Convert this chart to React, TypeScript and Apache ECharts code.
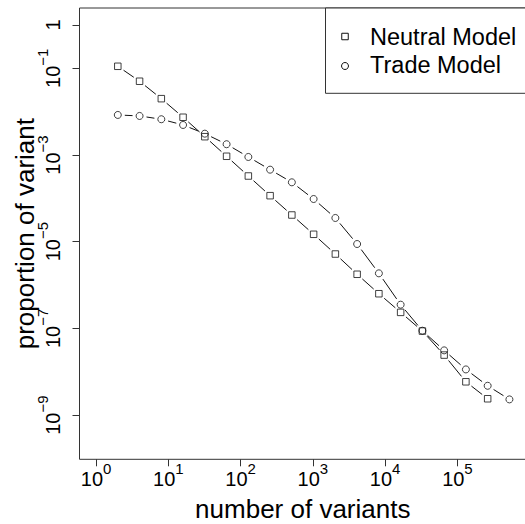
import React, { useEffect, useRef } from "react";
import * as echarts from "echarts";

// number of variants (x) for each point
const neutralCounts = [2, 4, 8, 16, 32, 64, 128, 256, 512, 1024, 2048, 4096, 8192, 16384, 32768, 65536, 131072, 262144];
const tradeCounts = [2, 4, 8, 16, 32, 64, 128, 256, 512, 1024, 2048, 4096, 8192, 16384, 32768, 65536, 131072, 262144, 524288];

// proportion of variant (y)
const neutralProportion = [1.11e-1, 5.02e-2, 1.99e-2, 7.41e-3, 2.64e-3, 9.33e-4, 3.27e-4, 1.15e-4, 4.12e-5, 1.48e-5, 5.19e-6, 1.77e-6, 6.3e-7, 2.34e-7, 8.67e-8, 2.42e-8, 5.86e-9, 2.38e-9];
const tradeProportion = [8.38e-3, 7.94e-3, 6.67e-3, 4.92e-3, 3.1e-3, 1.77e-3, 8.99e-4, 4.58e-4, 2.34e-4, 9.64e-5, 3.52e-5, 8.83e-6, 1.86e-6, 3.52e-7, 8.83e-8, 3.11e-8, 1.13e-8, 4.74e-9, 2.3e-9];

// tick exponents
const xTickExponents = [0, 1, 2, 3, 4, 5];
const yTickExponents = [0, -1, -3, -5, -7, -9];

const seriesNames = ["Neutral Model", "Trade Model"];

const FONT = "Liberation Sans, Arial, Helvetica, sans-serif";
const GAP = 7;

function toPoints(counts: number[], props: number[]) {
  return counts.map((c, i) => [Math.log10(c), Math.log10(props[i])]);
}

function segmentSeries(name: string, pts: number[][]) {
  return {
    type: "custom",
    name,
    silent: true,
    data: pts,
    encode: { x: 0, y: 1 },
    z: 2,
    renderItem: (params: any, api: any) => {
      const i = params.dataIndex;
      if (i === 0) return { type: "group", children: [] };
      const p0 = api.coord(pts[i - 1]);
      const p1 = api.coord(pts[i]);
      const dx = p1[0] - p0[0];
      const dy = p1[1] - p0[1];
      const len = Math.hypot(dx, dy);
      if (len <= 2 * GAP) return { type: "group", children: [] };
      const ux = dx / len;
      const uy = dy / len;
      return {
        type: "line",
        shape: {
          x1: p0[0] + ux * GAP,
          y1: p0[1] + uy * GAP,
          x2: p1[0] - ux * GAP,
          y2: p1[1] - uy * GAP,
        },
        style: { stroke: "#111", lineWidth: 1 },
      };
    },
  };
}

const supRich = {
  a: { fontSize: 20, lineHeight: 28, verticalAlign: "bottom", fontFamily: FONT, color: "#000" },
  b: { fontSize: 15, lineHeight: 15, verticalAlign: "top", fontFamily: FONT, color: "#000" },
};

export default function App() {
  const ref = useRef<HTMLDivElement>(null);
  useEffect(() => {
    if (!ref.current) return;
    const chart = echarts.init(ref.current, undefined, { renderer: "svg" });
    const neutralPts = toPoints(neutralCounts, neutralProportion);
    const tradePts = toPoints(tradeCounts, tradeProportion);
    const option: any = {
      animation: false,
      backgroundColor: "#fff",
      textStyle: { fontFamily: FONT },
      grid: {
        left: 79.5,
        top: 8,
        right: -1,
        bottom: 64.7,
        show: true,
        borderColor: "#333",
        borderWidth: 1,
        backgroundColor: "transparent",
        containLabel: false,
        outerBoundsMode: "none",
      },
      xAxis: {
        type: "value",
        min: -0.229,
        max: 5.949,
        name: "number of variants",
        nameLocation: "middle",
        nameGap: 37,
        nameMoveOverlap: false,
        nameTextStyle: { fontSize: 26, color: "#000", fontFamily: FONT },
        axisLine: { show: false, onZero: false },
        splitLine: { show: false },
        axisTick: { show: true, length: 7, customValues: xTickExponents, lineStyle: { color: "#333" } },
        axisLabel: {
          customValues: xTickExponents,
          margin: 2,
          formatter: (v: number) => `{a|10}{b|${v}}`,
          rich: supRich,
        },
      },
      yAxis: {
        type: "value",
        min: -10.02,
        max: 0.39,
        name: "proportion of variant",
        nameLocation: "middle",
        nameGap: 42,
        nameMoveOverlap: false,
        nameTextStyle: { fontSize: 26, color: "#000", fontFamily: FONT },
        axisLine: { show: false, onZero: false },
        splitLine: { show: false },
        axisTick: { show: true, length: 7, customValues: yTickExponents, lineStyle: { color: "#333" } },
        axisLabel: {
          customValues: yTickExponents,
          rotate: 90,
          margin: 16.4,
          formatter: (v: number) => (v === 0 ? "{a|1}" : `{a|10}{b|\u2212${Math.abs(v)}}`),
          rich: supRich,
        },
      },
      series: [
        segmentSeries(seriesNames[0] + " line", neutralPts),
        segmentSeries(seriesNames[1] + " line", tradePts),
        {
          type: "scatter",
          name: seriesNames[0],
          data: neutralPts,
          symbol: "rect",
          symbolSize: 6.5,
          itemStyle: { color: "none", borderColor: "#111", borderWidth: 1 },
          z: 3,
        },
        {
          type: "scatter",
          name: seriesNames[1],
          data: tradePts,
          symbol: "circle",
          symbolSize: 7,
          itemStyle: { color: "none", borderColor: "#111", borderWidth: 1 },
          z: 3,
        },
      ],
      graphic: [
        {
          type: "rect",
          shape: { x: 325.5, y: 8, width: 220, height: 85.3 },
          style: { fill: "#fff", stroke: "#333", lineWidth: 1 },
          z: 10,
        },
        {
          type: "rect",
          shape: { x: 341.75, y: 33.25, width: 6.5, height: 6.5 },
          style: { fill: "none", stroke: "#111", lineWidth: 1 },
          z: 11,
        },
        {
          type: "circle",
          shape: { cx: 345, cy: 66, r: 3.5 },
          style: { fill: "none", stroke: "#111", lineWidth: 1 },
          z: 11,
        },
        {
          type: "text",
          x: 370,
          y: 37,
          z: 11,
          style: {
            text: seriesNames[0],
            fontSize: 23.5,
            fontFamily: FONT,
            fill: "#000",
            verticalAlign: "middle",
            align: "left",
          },
        },
        {
          type: "text",
          x: 370,
          y: 65,
          z: 11,
          style: {
            text: seriesNames[1],
            fontSize: 23.5,
            fontFamily: FONT,
            fill: "#000",
            verticalAlign: "middle",
            align: "left",
          },
        },
      ],
    };
    chart.setOption(option);
    return () => chart.dispose();
  }, []);
  return (
    <div
      ref={ref}
      style={{ position: "absolute", left: 0, top: 0, width: 525, height: 524, background: "#fff" }}
    />
  );
}
